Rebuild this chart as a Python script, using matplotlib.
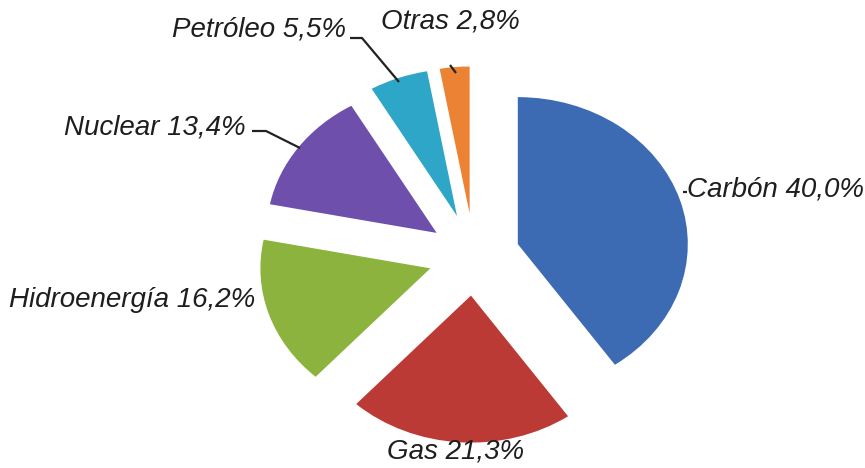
import matplotlib
matplotlib.use("Agg")
import matplotlib.pyplot as plt

# data
labels = ["Carbón", "Gas", "Hidroenergía", "Nuclear", "Petróleo", "Otras"]
values = [40.0, 21.3, 16.2, 13.4, 5.5, 2.8]
colors = ["#3D6BB3", "#BC3A35", "#8DB33F", "#6E4FAC", "#2EA6C8", "#EC8334"]
explode = [0.27, 0.27, 0.27, 0.27, 0.29, 0.29]

W, H = 865, 468
fig = plt.figure(figsize=(W / 100, H / 100), dpi=100)
ax = fig.add_axes([0, 0, 1, 1])

ax.pie(values, colors=colors, explode=explode, startangle=90,
       counterclock=False, wedgeprops=dict(linewidth=0))

# pie is squashed: 170 px per unit across, 147 px per unit up
sx, sy = 170.0, 147.0
cx, cy = 474.0, 256.0  # centre in pixels (from top)
ax.set_aspect("auto")
ax.set_xlim(-cx / sx, (W - cx) / sx)
ax.set_ylim(-(H - cy) / sy, cy / sy)
ax.axis("off")


def px(x, y):
    # pixel position (y from top) -> data coords
    return (x - cx) / sx, (cy - y) / sy


font = dict(family=["Liberation Sans", "DejaVu Sans"], style="italic",
            size=20, color="#1e1e1e")

# label text positions (pixels) and leader lines
label_pos = {
    "Carbón": (687, 190, "left"),
    "Gas": (456, 452, "center"),
    "Hidroenergía": (255, 300, "right"),
    "Nuclear": (246, 128, "right"),
    "Petróleo": (346, 30, "right"),
    "Otras": (450, 22, "center"),
}
leaders = {
    "Nuclear": [(252, 131), (266, 131), (300, 148)],
    "Petróleo": [(350, 38), (362, 38), (399, 82)],
    "Otras": [(450, 65), (456, 73)],
    "Carbón": [(683, 192), (687, 192)],
}

for lab, val in zip(labels, values):
    x, y, ha = label_pos[lab]
    tx, ty = px(x, y)
    txt = f"{lab} {val:.1f}%".replace(".", ",")
    ax.text(tx, ty, txt, ha=ha, va="center", **font)
    if lab in leaders:
        pts = [px(a, b) for a, b in leaders[lab]]
        ax.plot([p[0] for p in pts], [p[1] for p in pts], color="#222222",
                lw=1.6, solid_capstyle="butt")

fig.savefig("out.png", dpi=100)
